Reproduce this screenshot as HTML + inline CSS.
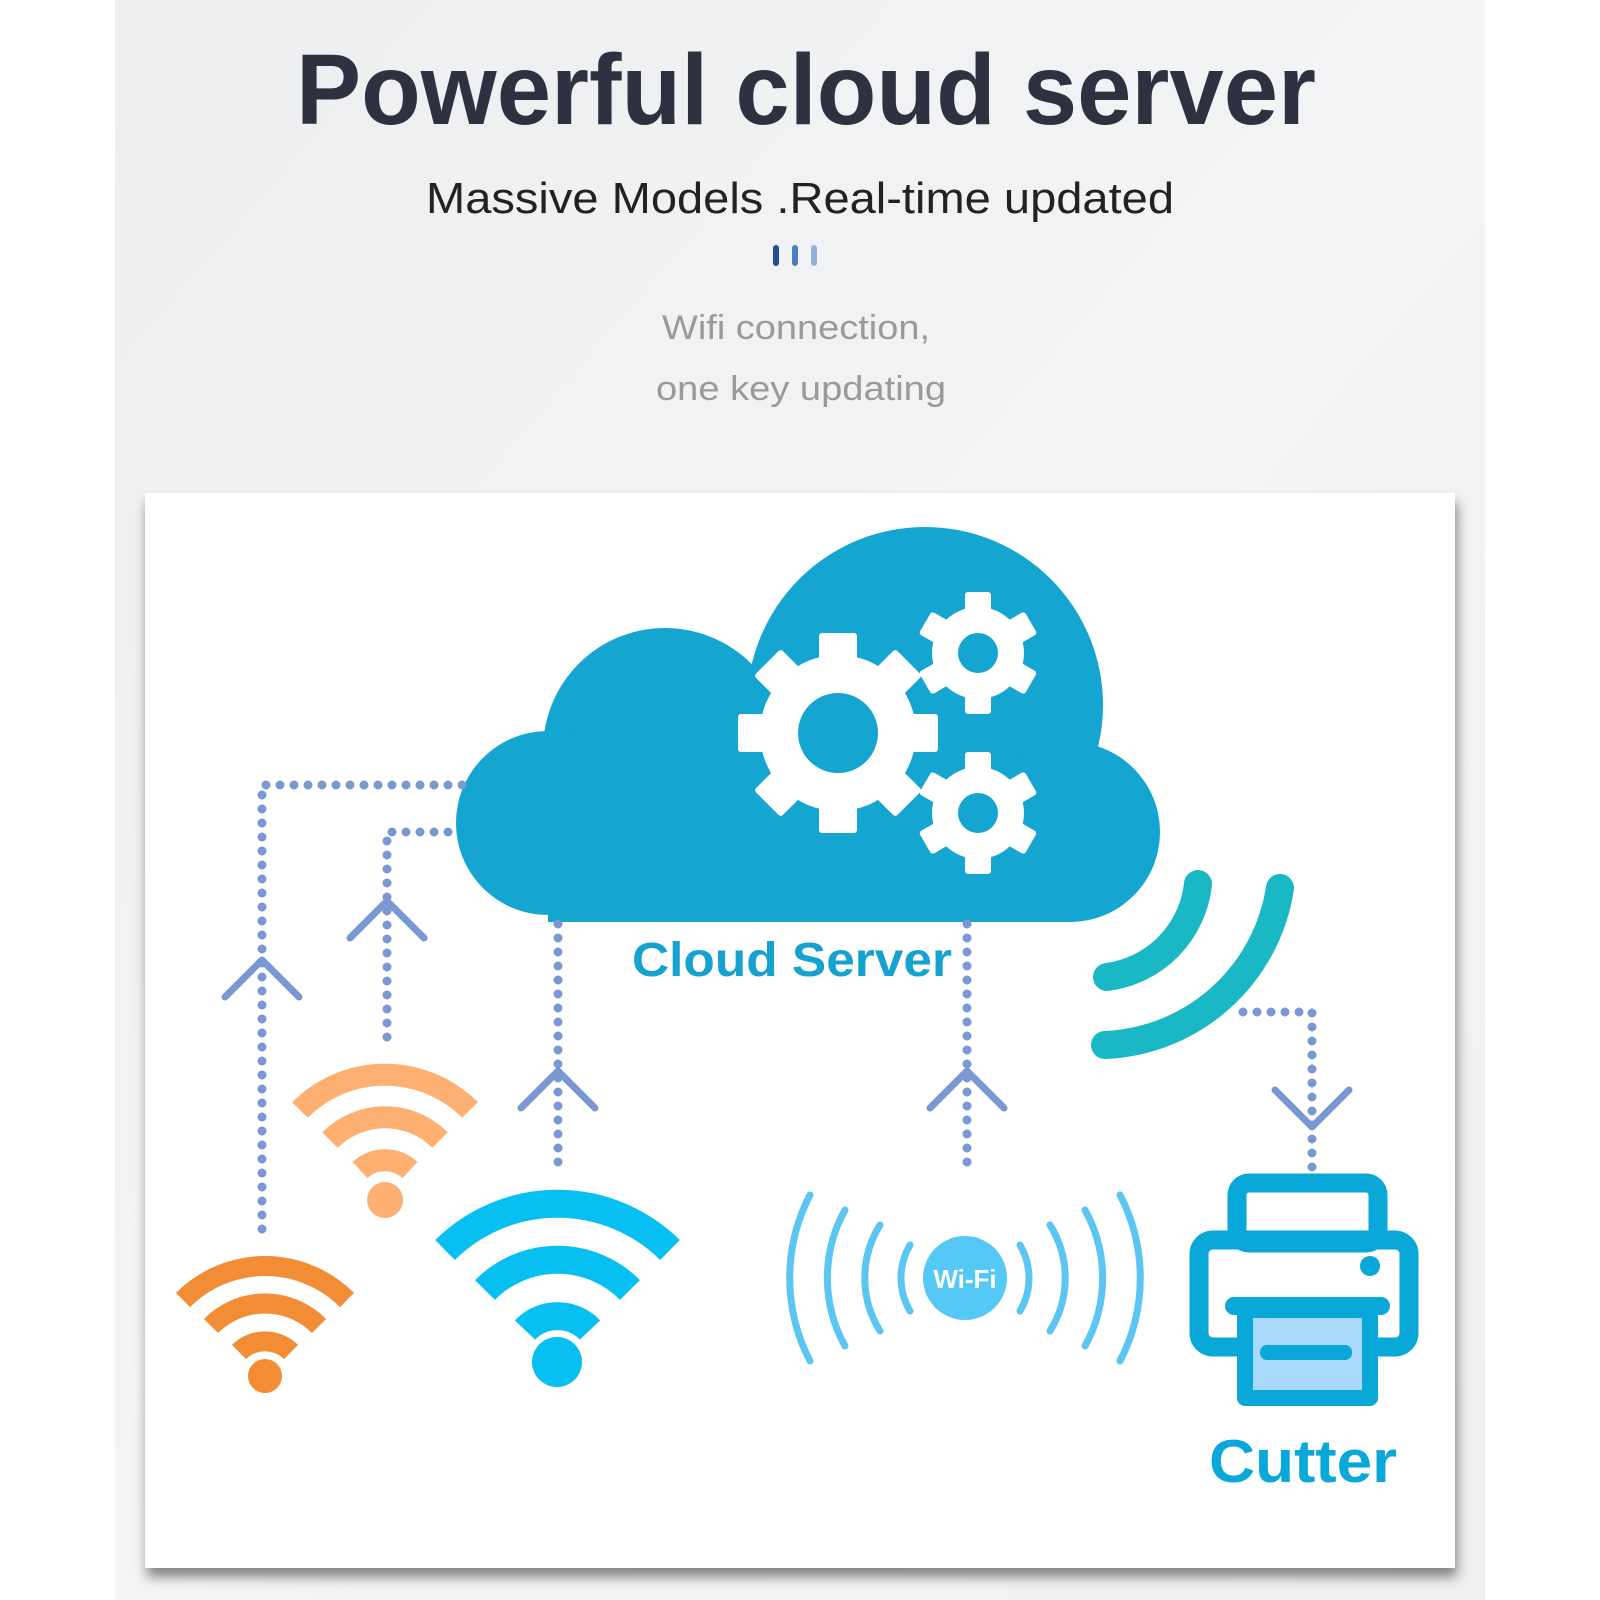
<!DOCTYPE html>
<html><head><meta charset="utf-8"><style>
html,body{margin:0;padding:0;background:#fff;}
svg{display:block;}
</style></head><body>
<svg width="1600" height="1600" viewBox="0 0 1600 1600" xmlns="http://www.w3.org/2000/svg">
<defs>
<linearGradient id="bg" x1="0" y1="0" x2="1" y2="1">
<stop offset="0" stop-color="#eceef0"/><stop offset="0.5" stop-color="#f3f4f6"/><stop offset="1" stop-color="#eef0f2"/>
</linearGradient>
<filter id="sh" x="-5%" y="-5%" width="110%" height="110%"><feGaussianBlur stdDeviation="6"/></filter>
</defs>
<rect x="115" y="0" width="1370" height="1600" fill="url(#bg)"/>
<text x="806" y="124" text-anchor="middle" font-family="Liberation Sans, sans-serif" font-weight="bold" font-size="100" fill="#2f3140" textLength="1020" lengthAdjust="spacingAndGlyphs">Powerful cloud server</text>
<text x="800" y="213" text-anchor="middle" font-family="Liberation Sans, sans-serif" font-size="44" fill="#222" textLength="748" lengthAdjust="spacingAndGlyphs">Massive Models .Real-time updated</text>
<rect x="773" y="245" width="6" height="21" rx="3" fill="#1f4f8f"/>
<rect x="792" y="245" width="6" height="21" rx="3" fill="#4d7fbf"/>
<rect x="811" y="245" width="6" height="21" rx="3" fill="#8fb2dd"/>
<text x="796" y="339" text-anchor="middle" font-family="Liberation Sans, sans-serif" font-size="34" fill="#9a9a9a" textLength="268" lengthAdjust="spacingAndGlyphs">Wifi connection,</text>
<text x="801" y="400" text-anchor="middle" font-family="Liberation Sans, sans-serif" font-size="34" fill="#9a9a9a" textLength="290" lengthAdjust="spacingAndGlyphs">one key updating</text>

<rect x="147" y="502" width="1310" height="1075" fill="#555" filter="url(#sh)" opacity="0.7"/>
<rect x="145" y="493" width="1310" height="1075" fill="#fff"/>

<!-- cloud -->
<g fill="#14a5d1">
<circle cx="925" cy="705" r="178"/>
<circle cx="665" cy="750" r="122"/>
<circle cx="548" cy="823" r="92"/>
<circle cx="1070" cy="832" r="90"/>
<rect x="548" y="760" width="525" height="162"/>
</g>
<!-- gears -->
<g fill="#fff" transform="translate(838,733)">
<circle r="78"/>
<g id="t8"><rect x="-19" y="-100" width="38" height="40" rx="3"/></g>
<use href="#t8" transform="rotate(45)"/><use href="#t8" transform="rotate(90)"/><use href="#t8" transform="rotate(135)"/>
<use href="#t8" transform="rotate(180)"/><use href="#t8" transform="rotate(225)"/><use href="#t8" transform="rotate(270)"/><use href="#t8" transform="rotate(315)"/>
<circle r="40" fill="#14a5d1"/>
</g>
<g fill="#fff" transform="translate(978,653)">
<circle r="46"/>
<g id="t6"><rect x="-13" y="-61" width="26" height="30" rx="3"/></g>
<use href="#t6" transform="rotate(60)"/><use href="#t6" transform="rotate(120)"/><use href="#t6" transform="rotate(180)"/><use href="#t6" transform="rotate(240)"/><use href="#t6" transform="rotate(300)"/>
<circle r="20" fill="#14a5d1"/>
</g>
<g fill="#fff" transform="translate(978,813)">
<circle r="46"/>
<use href="#t6"/><use href="#t6" transform="rotate(60)"/><use href="#t6" transform="rotate(120)"/><use href="#t6" transform="rotate(180)"/><use href="#t6" transform="rotate(240)"/><use href="#t6" transform="rotate(300)"/>
<circle r="20" fill="#14a5d1"/>
</g>
<text x="792" y="976" text-anchor="middle" font-family="Liberation Sans, sans-serif" font-weight="bold" font-size="48" fill="#16a2cf" textLength="320" lengthAdjust="spacingAndGlyphs">Cloud Server</text>

<!-- teal arcs -->
<g fill="none" stroke="#19b8c4" stroke-width="28" stroke-linecap="round">
<path d="M1198 884 A105 105 0 0 1 1107 977"/>
<path d="M1280 888 A185 185 0 0 1 1105 1045"/>
</g>

<!-- dotted connectors -->
<g fill="none" stroke="#7a98d3" stroke-width="9" stroke-linecap="round" stroke-dasharray="0 14">
<path d="M462 785 H262 V1230"/>
<path d="M448 832 H387 V1045"/>
<path d="M558 924 V1170"/>
<path d="M967 924 V1170"/>
<path d="M1243 1012 H1312 V1170"/>
</g>
<g fill="none" stroke="#7a98d3" stroke-width="7" stroke-linecap="round" stroke-linejoin="round">
<path d="M225 997 L262 960 L299 997"/>
<path d="M350 938 L387 901 L424 938"/>
<path d="M521 1108 L558 1071 L595 1108"/>
<path d="M930 1108 L967 1071 L1004 1108"/>
<path d="M1275 1090 L1312 1127 L1349 1090"/>
</g>

<!-- wifi orange small -->
<g fill="none" stroke="#f28d35" stroke-width="20">
<path d="M183 1300 A116 116 0 0 1 347 1300"/>
<path d="M211 1326 A76 76 0 0 1 319 1326"/>
<path d="M239 1352 A37 37 0 0 1 291 1352"/>
</g>
<circle cx="265" cy="1376" r="17" fill="#f28d35"/>
<!-- wifi light orange -->
<g fill="none" stroke="#fdb072" stroke-width="22">
<path d="M300 1110 A120 120 0 0 1 470 1110"/>
<path d="M330 1140 A78 78 0 0 1 440 1140"/>
<path d="M360 1170 A37 37 0 0 1 410 1170"/>
</g>
<circle cx="385" cy="1200" r="18" fill="#fdb072"/>
<!-- wifi blue -->
<g fill="none" stroke="#07bff0" stroke-width="28">
<path d="M445 1250 A160 160 0 0 1 670 1250"/>
<path d="M485 1290 A102 102 0 0 1 630 1290"/>
<path d="M525 1330 A45 45 0 0 1 590 1330"/>
</g>
<circle cx="557" cy="1362" r="25" fill="#07bff0"/>

<!-- Wi-Fi symbol -->
<circle cx="965" cy="1278" r="42" fill="#55c8f5"/>
<text x="965" y="1288" text-anchor="middle" font-family="Liberation Sans, sans-serif" font-weight="bold" font-size="26" fill="#fff">Wi-Fi</text>
<g fill="none" stroke="#5cc6f2" stroke-width="7" stroke-linecap="round">
<path d="M910 1245 A65 65 0 0 0 910 1311"/>
<path d="M1020 1245 A65 65 0 0 1 1020 1311"/>
<path d="M880 1225 A100 100 0 0 0 880 1331"/>
<path d="M1050 1225 A100 100 0 0 1 1050 1331"/>
<path d="M845 1210 A140 140 0 0 0 845 1346"/>
<path d="M1085 1210 A140 140 0 0 1 1085 1346"/>
<path d="M810 1195 A180 180 0 0 0 810 1361"/>
<path d="M1120 1195 A180 180 0 0 1 1120 1361"/>
</g>

<!-- printer -->
<g fill="none" stroke="#0aa7d9" stroke-width="19" stroke-linejoin="round">
<rect x="1237" y="1183" width="141" height="60" rx="12"/>
<rect x="1199" y="1240" width="210" height="107" rx="14"/>
</g>
<rect x="1225" y="1297" width="165" height="18" rx="9" fill="#0aa7d9"/>
<rect x="1245" y="1310" width="125" height="88" fill="#a9d8fb" stroke="#0aa7d9" stroke-width="16" stroke-linejoin="round"/>
<rect x="1260" y="1345" width="92" height="15" rx="7" fill="#0aa7d9"/>
<circle cx="1370" cy="1266" r="10" fill="#0aa7d9"/>
<text x="1303" y="1482" text-anchor="middle" font-family="Liberation Sans, sans-serif" font-weight="bold" font-size="60" fill="#0aa7d9" textLength="188" lengthAdjust="spacingAndGlyphs">Cutter</text>
</svg>
</body></html>
